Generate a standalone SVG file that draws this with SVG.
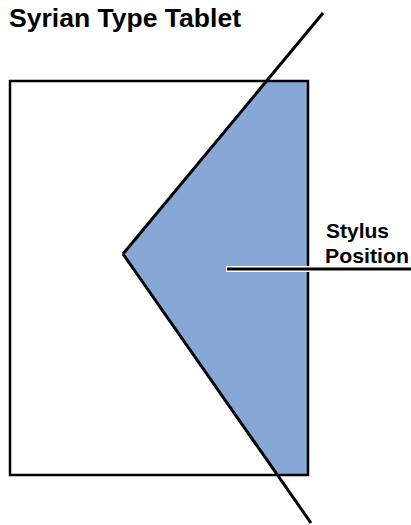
<svg xmlns="http://www.w3.org/2000/svg" width="411" height="525" viewBox="0 0 411 525">
<style>
.t{font-family:"Liberation Sans",Arial,sans-serif;font-weight:bold;fill:#000}
.ln{stroke:#000;stroke-width:3;fill:none;stroke-linecap:butt}
</style>
<rect width="411" height="525" fill="#fff"/>
<g id="title"><text class="t" x="9" y="27" font-size="25" textLength="232" lengthAdjust="spacingAndGlyphs">Syrian Type Tablet</text></g>
<g id="tablet">
<polygon points="123,254 267,81 308,81 308,475 277,475" fill="#87a7d7"/>
<rect x="10" y="81" width="298" height="394" fill="none" stroke="#000" stroke-width="2.5"/>
</g>
<g id="connectors">
<line class="ln" x1="323" y1="13" x2="123" y2="254"/>
<line class="ln" x1="123" y1="254" x2="311" y2="523"/>
<line x1="226" y1="269" x2="411" y2="269" stroke="#fff" stroke-width="6"/>
<line x1="227" y1="269" x2="411" y2="269" stroke="#000" stroke-width="3"/>
</g>
<g id="label">
<text class="t" x="326" y="238" font-size="21">Stylus</text>
<text class="t" x="325" y="263" font-size="21" textLength="84" lengthAdjust="spacingAndGlyphs">Position</text>
</g>
</svg>
